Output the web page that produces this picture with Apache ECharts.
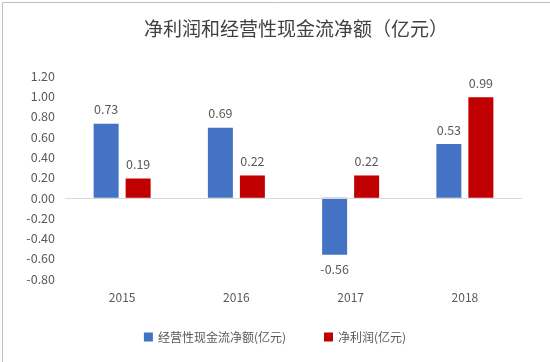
<!DOCTYPE html>
<html><head><meta charset="utf-8">
<script src="https://cdn.jsdelivr.net/npm/echarts@6/dist/echarts.min.js"></script>
<style>html,body{margin:0;padding:0;background:#fff}#c{width:550px;height:362px}</style>
</head><body><div id="c"></div>
<script>
const categories = ['2015', '2016', '2017', '2018'];
const cashFlow = [0.73, 0.69, -0.56, 0.53];
const netProfit = [0.19, 0.22, 0.22, 0.99];
const seriesNames = ['经营性现金流净额(亿元)', '净利润(亿元)'];
const titleText = '净利润和经营性现金流净额（亿元）';

const font = '"Noto Sans CJK SC", sans-serif';
function mk(vals) {
  return vals.map(v => ({ value: v, label: { position: v < 0 ? 'bottom' : 'top' } }));
}
const chart = echarts.init(document.getElementById('c'));
chart.setOption({
  backgroundColor: '#fff',
  animation: false,
  title: { text: titleText, left: 139, top: 14,
    textStyle: { fontFamily: font, fontSize: 19, fontWeight: 'normal', color: '#404040' } },
  legend: { bottom: 14, left: 'center', itemWidth: 9, itemHeight: 9, icon: 'rect', itemGap: 38,
    textStyle: { fontFamily: font, fontSize: 12, color: '#595959' },
    data: seriesNames },
  grid: { left: 65, right: 28, top: 76, bottom: 83 },
  xAxis: { type: 'category', data: categories,
    axisLine: { show: true, onZero: false, lineStyle: { color: 'rgba(0,0,0,0)' } },
    axisTick: { show: false },
    axisLabel: { fontFamily: font, fontSize: 12, color: '#595959', margin: 12 } },
  yAxis: { type: 'value', min: -0.8, max: 1.2, interval: 0.2,
    axisLine: { show: false }, axisTick: { show: false }, splitLine: { show: false },
    axisLabel: { fontFamily: font, fontSize: 12.5, color: '#595959', margin: 10,
      formatter: v => v.toFixed(2) } },
  series: [
    { name: seriesNames[0], type: 'bar', data: mk(cashFlow), barWidth: 25, barGap: '28%',
      itemStyle: { color: '#4472C4' },
      label: { show: true, fontFamily: font, fontSize: 12.5, color: '#595959', distance: 8,
        formatter: p => p.value.toFixed(2) },
      markLine: { silent: true, symbol: 'none', label: { show: false },
        lineStyle: { color: '#d9d9d9', type: 'solid', width: 1 }, data: [{ yAxis: 0 }] } },
    { name: seriesNames[1], type: 'bar', data: mk(netProfit), barWidth: 25,
      itemStyle: { color: '#C00000' },
      label: { show: true, fontFamily: font, fontSize: 12.5, color: '#595959', distance: 8,
        formatter: p => p.value.toFixed(2) } }
  ],
  graphic: [{ type: 'rect', left: 0, top: 0, shape: { width: 549, height: 361 },
    style: { fill: 'none', stroke: '#bfbfbf', lineWidth: 1 }, silent: true }]
});
</script></body></html>
